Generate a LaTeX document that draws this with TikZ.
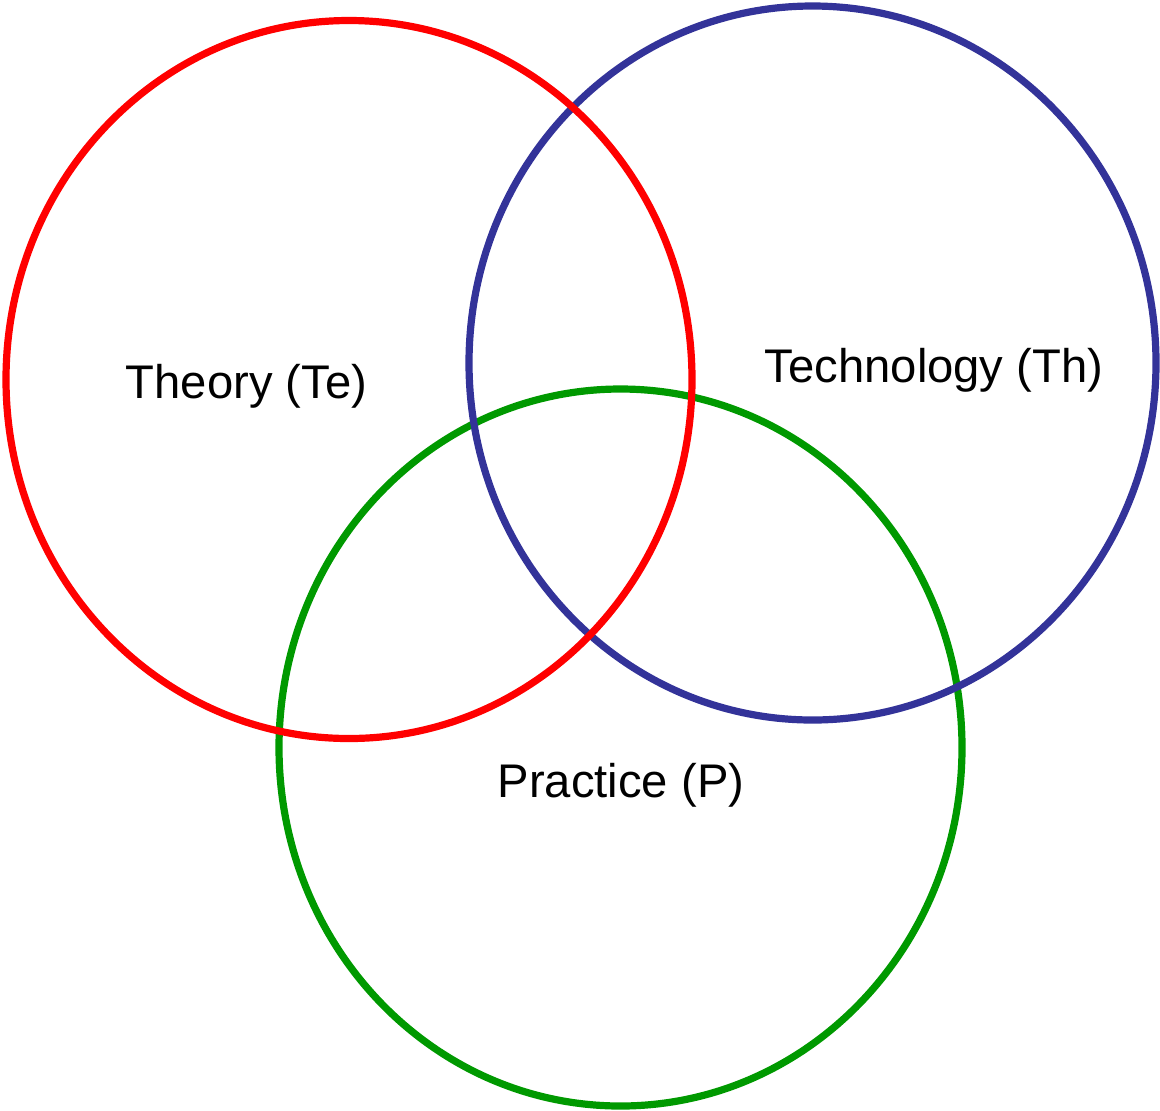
\documentclass[tikz,border=0pt]{standalone}
\usepackage{fontspec}
\setmainfont{Liberation Sans}
\definecolor{vred}{HTML}{FF0000}
\definecolor{vblue}{HTML}{333399}
\definecolor{vgreen}{HTML}{009900}
\begin{document}
\begin{tikzpicture}[x=0.5pt,y=-0.5pt,
  ring/.style={line width=3.6pt},
  lbl/.style={anchor=base,inner sep=0pt,font=\fontsize{23.6}{28}\selectfont}]
\useasboundingbox (0,0) rectangle (1160,1110);
\coordinate (cp) at (620.5,747.5);
\coordinate (cth) at (812.5,363);
\coordinate (cte) at (349,379.5);
\draw[ring,vgreen] (cp) ellipse [x radius=341.5,y radius=358.5];
\draw[ring,vblue] (cth) ellipse [x radius=343.5,y radius=357];
\draw[ring,vred] (cte) ellipse [x radius=343,y radius=359];
\node[lbl] (te) at (246.5,398) {Theory (Te)};
\node[lbl] (th) at (934,382) {Technology (Th)};
\node[lbl] (p) at (621,797) {Practice (P)};
\end{tikzpicture}
\end{document}
